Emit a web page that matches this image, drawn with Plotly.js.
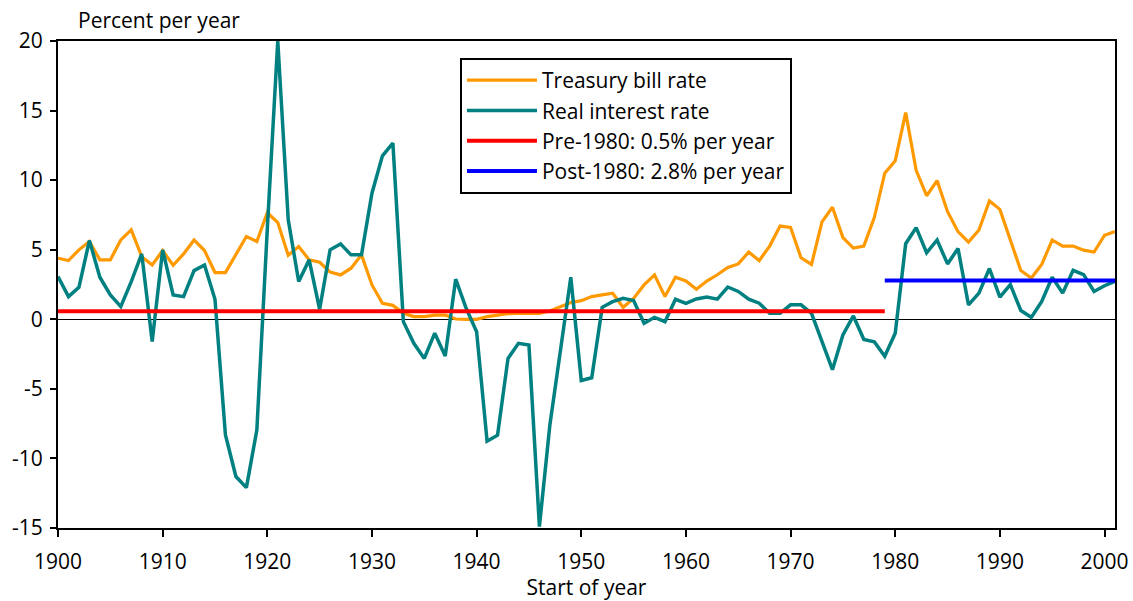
<!DOCTYPE html>
<html>
<head>
<meta charset="utf-8">
<script src="https://cdn.plot.ly/plotly-3.0.1.min.js"></script>
<style>html,body{margin:0;padding:0;background:#fff;}#chart{width:1133px;height:601px;}</style>
</head>
<body>
<div id="chart"></div>
<script>
const years = [];
for (let y = 1900; y <= 2001; y++) years.push(y);

const tbillRate = [
  4.39, 4.22, 4.99, 5.59, 4.27, 4.27, 5.70, 6.43, 4.50, 3.90,
  4.94, 3.88, 4.70, 5.70, 4.94, 3.36, 3.36, 4.63, 5.95, 5.59,
  7.67, 6.95, 4.60, 5.23, 4.27, 4.10, 3.40, 3.19, 3.67, 4.63,
  2.47, 1.15, 1.00, 0.43, 0.19, 0.19, 0.30, 0.30, 0.02, 0.00,
  0.00, 0.19, 0.30, 0.40, 0.43, 0.43, 0.43, 0.60, 0.91, 1.20,
  1.34, 1.63, 1.75, 1.87, 0.86, 1.50, 2.47, 3.19, 1.63, 3.02,
  2.75, 2.16, 2.75, 3.20, 3.72, 3.98, 4.83, 4.22, 5.26, 6.70,
  6.60, 4.42, 3.94, 7.00, 8.05, 5.87, 5.12, 5.26, 7.31, 10.50,
  11.40, 14.85, 10.70, 8.88, 9.97, 7.73, 6.30, 5.55, 6.42, 8.50,
  7.90, 5.75, 3.50, 2.97, 3.94, 5.70, 5.26, 5.26, 4.97, 4.83,
  6.04, 6.30
];

const realRate = [
  3.07, 1.63, 2.30, 5.66, 3.02, 1.75, 0.91, 2.70, 4.70, -1.60,
  4.99, 1.75, 1.63, 3.50, 3.90, 1.44, -8.32, -11.30, -12.10, -7.96,
  6.50, 20.00, 7.15, 2.71, 4.27, 0.72, 4.99, 5.42, 4.63, 4.63,
  9.06, 11.75, 12.66, -0.17, -1.73, -2.81, -1.00, -2.64, 2.88, 0.79,
  -0.89, -8.76, -8.33, -2.81, -1.73, -1.85, -14.90, -7.60, -2.30, 3.02,
  -4.40, -4.20, 0.86, 1.27, 1.51, 1.34, -0.29, 0.14, -0.17, 1.44,
  1.15, 1.46, 1.60, 1.45, 2.32, 2.00, 1.45, 1.16, 0.43, 0.43,
  1.04, 1.04, 0.43, -1.62, -3.62, -1.13, 0.24, -1.45, -1.62, -2.66,
  -1.01, 5.43, 6.59, 4.78, 5.70, 3.98, 5.09, 1.04, 1.88, 3.65,
  1.59, 2.49, 0.63, 0.14, 1.28, 3.02, 1.88, 3.52, 3.21, 2.00,
  2.41, 2.73
];

const preYears = [1900, 1979];
const preAvg = [0.58, 0.58];
const postYears = [1979, 2001];
const postAvg = [2.78, 2.78];

const seriesNames = ["Treasury bill rate", "Real interest rate", "Pre-1980: 0.5% per year", "Post-1980: 2.8% per year"];
const yTicks = [-15, -10, -5, 0, 5, 10, 15, 20];
const xTicks = [1900, 1910, 1920, 1930, 1940, 1950, 1960, 1970, 1980, 1990, 2000];

const FONT = "Open Sans, Noto Sans, sans-serif";

const traces = [
  {x: years, y: tbillRate, name: seriesNames[0], type: "scatter", mode: "lines",
   line: {color: "#FF9900", width: 3.2}},
  {x: years, y: realRate, name: seriesNames[1], type: "scatter", mode: "lines",
   line: {color: "#008080", width: 3.5}},
  {x: preYears, y: preAvg, name: seriesNames[2], type: "scatter", mode: "lines",
   line: {color: "#FF0000", width: 4}},
  {x: postYears, y: postAvg, name: seriesNames[3], type: "scatter", mode: "lines",
   line: {color: "#0000FF", width: 4}}
];

const layout = {
  width: 1133, height: 601,
  margin: {l: 58, r: 18, t: 41, b: 73, pad: 0},
  paper_bgcolor: "#fff", plot_bgcolor: "#fff",
  font: {family: FONT, size: 21, color: "#000"},
  showlegend: true,
  legend: {
    x: 0.3803, y: 0.965, xanchor: "left", yanchor: "top",
    bgcolor: "#fff", bordercolor: "#000", borderwidth: 2,
    font: {family: FONT, size: 21, color: "#000"},
    itemwidth: 70
  },
  xaxis: {
    range: [1900, 2001], tickvals: xTicks, ticktext: xTicks.map(String),
    ticks: "outside", ticklen: 7, tickwidth: 2, tickcolor: "#000",
    showline: true, linewidth: 2, linecolor: "#000", mirror: true,
    showgrid: false, zeroline: false,
    tickfont: {family: FONT, size: 21, color: "#000"},
    ticklabelstandoff: 7,
    title: {text: "Start of year", font: {family: FONT, size: 21, color: "#000"}, standoff: 6}
  },
  yaxis: {
    range: [-15, 20], tickvals: yTicks, ticktext: yTicks.map(String),
    ticks: "outside", ticklen: 6, tickwidth: 2, tickcolor: "#000",
    showline: true, linewidth: 2, linecolor: "#000", mirror: true,
    showgrid: false, zeroline: true, zerolinecolor: "#000", zerolinewidth: 1.5,
    tickfont: {family: FONT, size: 21, color: "#000"},
    ticklabelstandoff: 3
  },
  annotations: [{
    text: "Percent per year", xref: "paper", yref: "paper",
    x: 0.017, y: 1.0431, xanchor: "left", yanchor: "middle",
    showarrow: false, font: {family: FONT, size: 21, color: "#000"}
  }]
};

Plotly.newPlot("chart", traces, layout, {displayModeBar: false, staticPlot: true});
</script>
</body>
</html>
